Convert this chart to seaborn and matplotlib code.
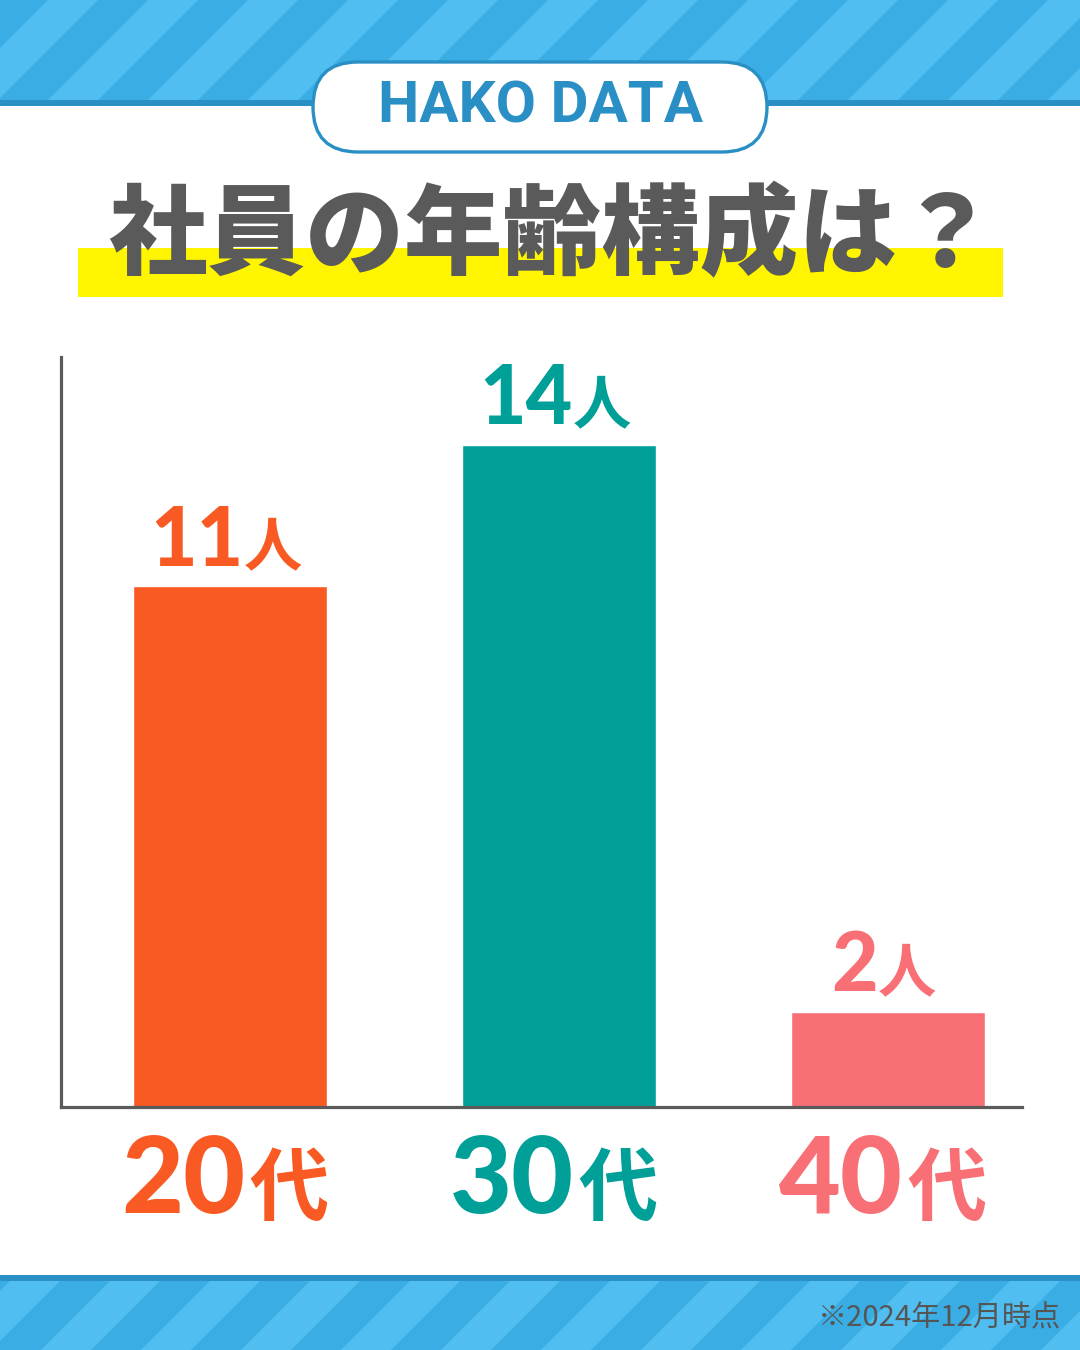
import numpy as np
import pandas as pd
import matplotlib
matplotlib.use("Agg")
import matplotlib.pyplot as plt
import seaborn as sns
from matplotlib.patches import Rectangle, Polygon, FancyBboxPatch
from matplotlib.offsetbox import TextArea, HPacker, AnnotationBbox

# data
ages = ["20代", "30代", "40代"]
age_nums = ["20", "30", "40"]
counts = [11, 14, 2]
bar_colors = ["#f95a24", "#00a099", "#f87076"]

title = "社員の年齢構成は？"
badge = "HAKO DATA"
note = "※2024年12月時点"

sns.set_style("white")
plt.rcParams["font.family"] = ["Noto Sans CJK JP", "DejaVu Sans"]

fig = plt.figure(figsize=(10.8, 13.5), dpi=100)
fig.patch.set_facecolor("white")

# background layer in pixel coords
bg = fig.add_axes([0, 0, 1, 1], zorder=0)
bg.set_xlim(0, 1080)
bg.set_ylim(1350, 0)
bg.axis("off")

def stripe_band(y0, y1, phase):
    clip = Rectangle((0, y0), 1080, y1 - y0, facecolor="#3aaee4", edgecolor="none")
    bg.add_patch(clip)
    h = y1 - y0
    for k in range(-3, 14):
        x0 = phase + k * 100
        p = Polygon([(x0, y1), (x0 + 50, y1), (x0 + 50 + h, y0), (x0 + h, y0)],
                    closed=True, facecolor="#50bef1", edgecolor="none")
        bg.add_patch(p)
        p.set_clip_path(clip)

stripe_band(0, 100, 48)
bg.add_patch(Rectangle((0, 100), 1080, 6, facecolor="#2a8fc4", edgecolor="none"))
stripe_band(1281, 1350, 41)
bg.add_patch(Rectangle((0, 1275), 1080, 6, facecolor="#2a8fc4", edgecolor="none"))

# badge
bg.add_patch(FancyBboxPatch((313, 62), 454, 90, boxstyle="round,pad=0,rounding_size=45",
                            facecolor="white", edgecolor="#2a8fc4", linewidth=2.4))
bg.text(541, 107, badge, ha="center", va="center", fontsize=42, fontweight="bold",
        family="Roboto", color="#2a8fc4")

# title with highlight
bg.add_patch(Rectangle((78, 248), 925, 49, facecolor="#fff500", edgecolor="none"))
bg.text(552, 238, title, ha="center", va="center", fontsize=71, fontweight="heavy",
        color="#5a5a5a")

# footer
bg.text(1061, 1318, note, ha="right", va="center", fontsize=21, color="#555555")

# chart
ax = fig.add_axes([61 / 1080, 1 - 1107 / 1350, 961 / 1080, 750 / 1350], zorder=1)
ax.patch.set_alpha(0)
df = pd.DataFrame({"age": ages, "count": counts})
sns.barplot(data=df, x="age", y="count", hue="age", palette=bar_colors,
            legend=False, width=0.59, saturation=1, ax=ax)
ax.set_xlim(-0.514, 2.407)
ax.set_ylim(0, 15.85)
ax.set_xticks([])
ax.set_yticks([])
ax.set_xlabel("")
ax.set_ylabel("")
for s in ["top", "right"]:
    ax.spines[s].set_visible(False)
for s in ["left", "bottom"]:
    ax.spines[s].set_color("#5a5a5a")
    ax.spines[s].set_linewidth(2.3)

def pack(num, unit, color, s1, s2, sep):
    a = TextArea(num, textprops=dict(color=color, fontsize=s1, fontweight="black", family="Lato"))
    b = TextArea(unit, textprops=dict(color=color, fontsize=s2, fontweight="bold",
                                      family="Noto Sans CJK JP"))
    return HPacker(children=[a, b], align="baseline", pad=0, sep=sep)

for i, (n, c) in enumerate(zip(counts, bar_colors)):
    box = pack(str(n), "人", c, 58, 42, 0)
    ab = AnnotationBbox(box, (i, n), xybox=(-3, 5), xycoords="data", boxcoords="offset points",
                        frameon=False, box_alignment=(0.5, 0), annotation_clip=False)
    ax.add_artist(ab)

for i, (num, c) in enumerate(zip(age_nums, bar_colors)):
    box = pack(num, "代", c, 77, 57, 3)
    ab = AnnotationBbox(box, (i, 0), xybox=(-4, -19), xycoords="data", boxcoords="offset points",
                        frameon=False, box_alignment=(0.5, 1), annotation_clip=False)
    ax.add_artist(ab)

fig.savefig("out.png", dpi=100)
